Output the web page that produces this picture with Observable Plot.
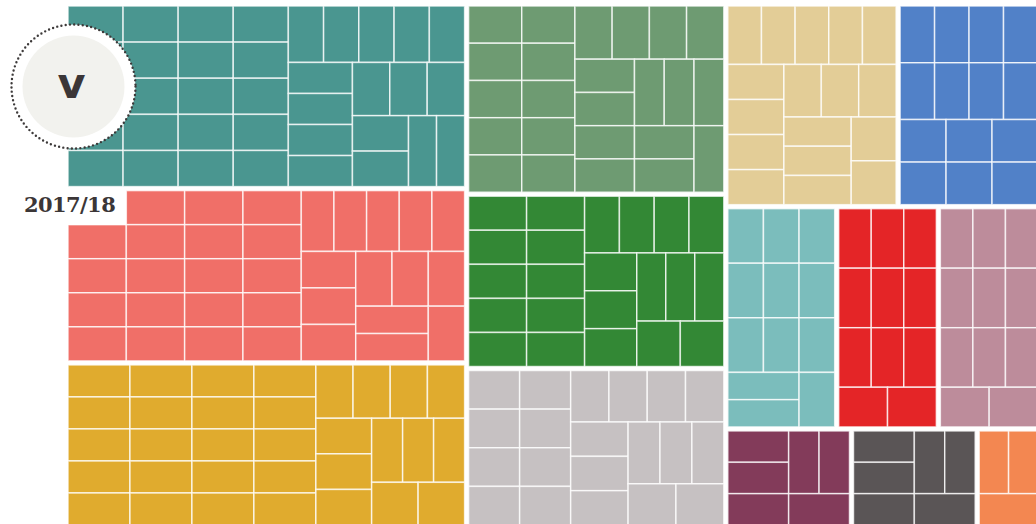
<!DOCTYPE html>
<html><head><meta charset="utf-8">
<script src="https://cdn.jsdelivr.net/npm/d3@7"></script>
<script src="https://cdn.jsdelivr.net/npm/@observablehq/plot@0.6"></script>
<style>
html,body{margin:0;padding:0;background:#fff;}
#wrap{position:relative;width:1036px;height:524px;overflow:hidden;}
#year{position:absolute;left:14px;top:188px;width:112px;height:37px;background:#fff;font-family:"DejaVu Serif";font-weight:bold;font-size:21px;letter-spacing:-0.6px;color:#3b3637;line-height:34px;padding-left:10px;box-sizing:border-box;white-space:nowrap;}
</style></head><body><div id="wrap"></div>
<script>
// Categories (groups of the treemap), number of unit cells in each, and their colours
const categories = ["A","B","C","D","E","F","G","H","I","J","K","L","M","N"];
const cellCounts = [36, 34, 32, 24, 22, 20, 17, 14, 12, 11, 11, 6, 6, 3];
const colours = ["#4a9690","#f06f68","#e0ab2e","#6e9b72","#338835","#c6c1c2","#e3cd97","#5181c8","#7bbdbc","#e42527","#bd8c9b","#833b5a","#5a5556","#f38751"];
const yearLabel = "2017/18";
const badgeLetter = "v";

const tree = {
  name: "root",
  children: categories.map((c, i) => ({
    name: c,
    children: Array.from({length: cellCounts[i]}, () => ({name: c, value: 1}))
  }))
};
const root = d3.hierarchy(tree)
  .sum(d => d.children ? 0 : d.value)
  .sort((a, b) => b.value - a.value);

const ox = 68, oy = 6;
d3.treemap()
  .tile(d3.treemapSquarify)
  .size([970, 519])
  .paddingInner(n => n.depth === 0 ? 4 : 0)
  .round(false)(root);

const cells = root.leaves().map(l => ({
  cat: l.data.name,
  x0: l.x0 + ox, x1: l.x1 + ox, y0: l.y0 + oy, y1: l.y1 + oy
}));

const chart = Plot.plot({
  width: 1036,
  height: 524,
  margin: 0,
  x: {domain: [0, 1036], range: [0, 1036], axis: null},
  y: {domain: [0, 524], range: [0, 524], axis: null},
  color: {domain: categories, range: colours},
  marks: [
    Plot.rect(cells, {x1: "x0", x2: "x1", y1: "y0", y2: "y1", fill: "cat",
      stroke: "white", strokeOpacity: 0.75, strokeWidth: 1.5}),
    Plot.dot([0], {frameAnchor: "top-left", dx: 73, dy: 86, r: 62, fill: "white",
      stroke: "#3d3a3a", strokeWidth: 2.4, strokeDasharray: "0 4.3", strokeLinecap: "round"}),
    Plot.dot([0], {frameAnchor: "top-left", dx: 73, dy: 86, r: 51, fill: "#f2f2ee"}),
    Plot.text([badgeLetter], {frameAnchor: "top-left", dx: 71, dy: 84, text: d => d,
      textAnchor: "middle", lineAnchor: "middle",
      fontSize: 43, fontWeight: "bold", fill: "#3b3637", fontFamily: "DejaVu Sans"})
  ]
});
const wrap = document.getElementById("wrap");
wrap.appendChild(chart);
const lab = document.createElement("div");
lab.id = "year";
lab.textContent = yearLabel;
wrap.appendChild(lab);
</script>
</body></html>
